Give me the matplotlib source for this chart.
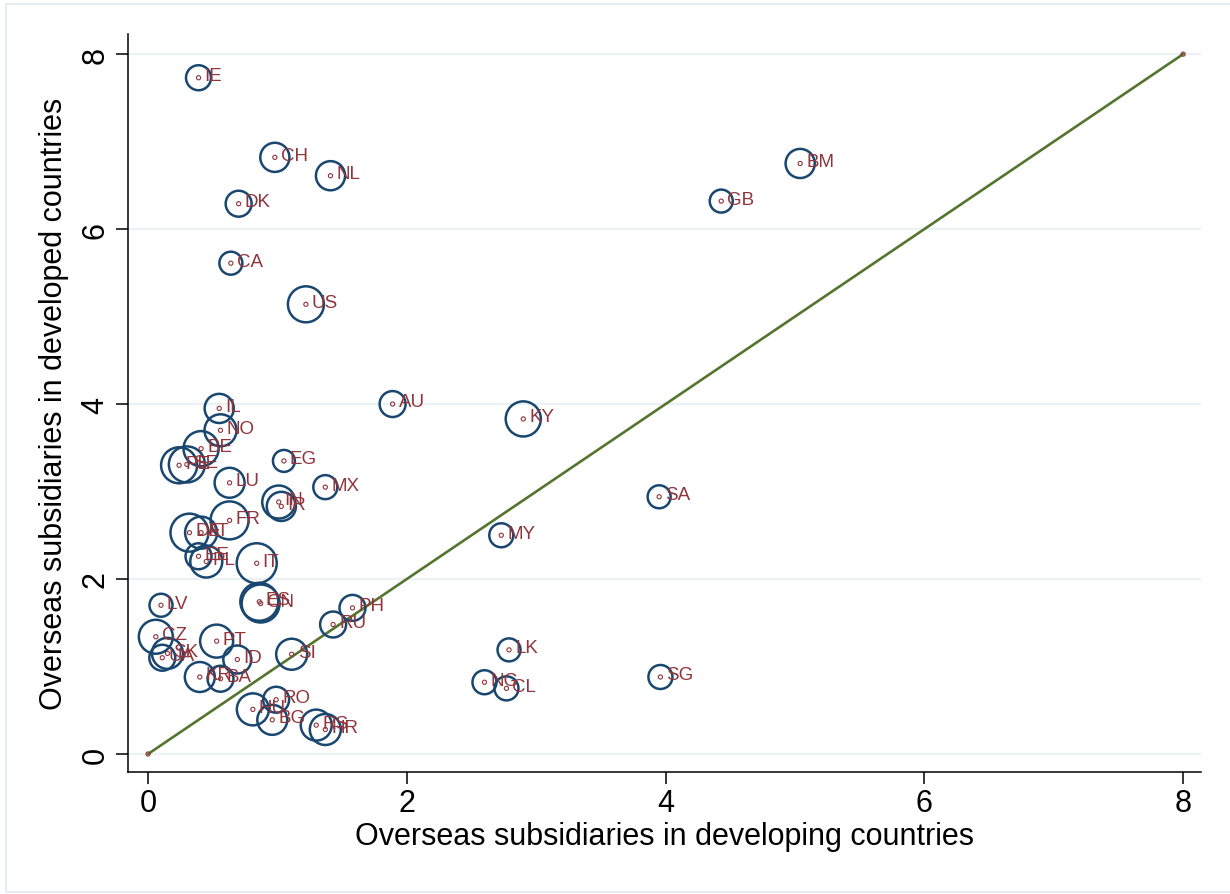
import matplotlib
matplotlib.use("Agg")
import matplotlib.pyplot as plt
from matplotlib.patches import Rectangle
import numpy as np

plt.rcParams["font.family"] = ["Liberation Sans", "DejaVu Sans"]

# Country codes
codes = ["IE", "CH", "NL", "DK", "CA", "US", "BM", "GB", "AU", "KY",
         "IL", "NO", "BE", "PE", "SE", "EG", "LU", "MX", "SA", "IN",
         "IR", "FR", "DE", "AT", "MY", "EE", "PL", "IT", "ES", "CN",
         "LV", "PH", "RU", "CZ", "PT", "LK", "SK", "SI", "UA", "ID",
         "KR", "BA", "SG", "NG", "CL", "RO", "HU", "BG", "RS", "HR"]

# Average overseas subsidiaries in developing countries
developing = [0.39, 0.98, 1.41, 0.70, 0.64, 1.22, 5.04, 4.43, 1.89, 2.90,
              0.55, 0.56, 0.41, 0.24, 0.30, 1.05, 0.63, 1.37, 3.95, 1.01,
              1.03, 0.63, 0.32, 0.41, 2.73, 0.39, 0.45, 0.84, 0.86, 0.87,
              0.10, 1.58, 1.43, 0.06, 0.53, 2.79, 0.15, 1.11, 0.11, 0.69,
              0.40, 0.56, 3.96, 2.60, 2.77, 0.99, 0.81, 0.96, 1.30, 1.37]

# Average overseas subsidiaries in developed countries
developed = [7.73, 6.82, 6.61, 6.29, 5.61, 5.14, 6.75, 6.32, 4.00, 3.83,
             3.95, 3.70, 3.49, 3.30, 3.31, 3.35, 3.10, 3.05, 2.94, 2.88,
             2.83, 2.67, 2.53, 2.53, 2.50, 2.26, 2.20, 2.18, 1.74, 1.72,
             1.70, 1.67, 1.48, 1.34, 1.29, 1.19, 1.15, 1.14, 1.10, 1.08,
             0.88, 0.86, 0.88, 0.82, 0.75, 0.62, 0.51, 0.39, 0.33, 0.28]

# Frequency weights (bubble area)
weight = [39, 53, 53, 42, 33, 81, 53, 33, 42, 77,
          53, 64, 77, 81, 81, 30, 56, 36, 33, 68,
          53, 90, 90, 64, 36, 42, 64, 100, 90, 90,
          33, 42, 42, 72, 68, 33, 60, 60, 42, 49,
          56, 42, 36, 36, 36, 42, 64, 56, 60, 60]

# Reference line (equal shares)
diag = [0, 8]
ticks = [0, 2, 4, 6, 8]

navy = "#1a476f"
maroon = "#90353b"
green = "#55752f"
grid_c = "#eaf2f3"

fig = plt.figure(figsize=(12.3, 8.95), dpi=100)
fig.patches.append(Rectangle((6 / 1230, 2 / 895), 1.2, 888 / 895,
                             transform=fig.transFigure, facecolor="none",
                             edgecolor="#e4eced", lw=1.5, zorder=0))

ax = fig.add_axes([128 / 1230, 1 - 773 / 895, (1201 - 128) / 1230, (773 - 35) / 895])
ax.set_xlim(-0.155, 8.138)
ax.set_ylim(-0.206, 8.23)

ax.yaxis.grid(True, color=grid_c, lw=1.6, zorder=0)
ax.xaxis.grid(False)
ax.set_axisbelow(True)

for side in ["top", "right"]:
    ax.spines[side].set_visible(False)
for side in ["left", "bottom"]:
    ax.spines[side].set_linewidth(1.1)

# 45-degree line
ax.plot(diag, diag, color=green, lw=1.9, zorder=2)
ax.scatter(diag, diag, s=9, facecolors="none", edgecolors=maroon, lw=0.8, zorder=3)

# Weighted bubbles
w = np.array(weight, dtype=float)
ax.scatter(developing, developed, s=w * 8.3, facecolors="none",
           edgecolors=navy, lw=1.8, zorder=3)
ax.scatter(developing, developed, s=9, facecolors="none",
           edgecolors=maroon, lw=0.8, zorder=4)

for c, xv, yv in zip(codes, developing, developed):
    ax.annotate(c, (xv, yv), xytext=(4.3, 1.5), textcoords="offset points",
                ha="left", va="center", fontsize=13.5, color=maroon, zorder=5)

ax.set_xticks(ticks)
ax.set_yticks(ticks)
ax.tick_params(axis="both", length=8.6, width=1.1, labelsize=22, colors="black")
ax.tick_params(axis="x", pad=3)
ax.tick_params(axis="y", pad=4)
for lab in ax.get_yticklabels():
    lab.set_rotation(90)
    lab.set_va("center")

ax.set_xlabel("Overseas subsidiaries in developing countries", fontsize=22, labelpad=2)
ax.set_ylabel("Overseas subsidiaries in developed countries", fontsize=22, labelpad=8)

fig.savefig("out.png", dpi=100)
